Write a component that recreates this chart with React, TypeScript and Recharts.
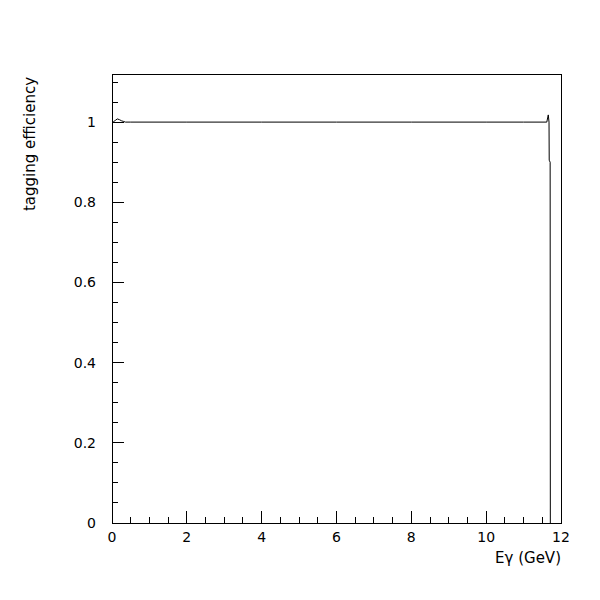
import { LineChart, Line, XAxis, YAxis, ReferenceArea, Customized } from "recharts";

// photon energy (GeV) and tagging efficiency
const energy = [0, 0.04, 0.1, 0.14, 0.2, 0.26, 0.3, 0.36, 0.5, 2, 4, 6, 8, 10, 11.0, 11.62, 11.66, 11.68, 11.685, 11.71, 11.715];
const efficiency = [1.0, 1.001, 1.005, 1.008, 1.006, 1.003, 1.002, 1.0, 1.0, 1.0, 1.0, 1.0, 1.0, 1.0, 1.0, 1.0, 1.018, 1.0, 0.905, 0.9, 0];

const xTicks = Array.from({ length: 25 }, (_, i) => i * 0.5);
const xLabels = [0, 2, 4, 6, 8, 10, 12];
const yTicks = Array.from({ length: 23 }, (_, i) => Math.round(i * 5) / 100);
const yLabels = [0, 0.2, 0.4, 0.6, 0.8, 1];

const data = energy.map((e, i) => ({ e, eff: efficiency[i] }));

const font = "'DejaVu Sans', Verdana, sans-serif";

const XTick = (props: any) => {
  const { x, y, payload } = props;
  const v = payload.value;
  const major = xLabels.includes(v);
  return (
    <g>
      <line x1={x} x2={x} y1={y} y2={y - (major ? 12 : 6)} stroke="#000" shapeRendering="crispEdges" />
      {major && (
        <text x={x} y={y + 19} textAnchor="middle" fontSize={14} fontFamily={font} fill="#000">
          {v}
        </text>
      )}
    </g>
  );
};

const YTick = (props: any) => {
  const { x, y, payload } = props;
  const v = payload.value;
  const major = yLabels.some((l) => Math.abs(l - v) < 1e-6);
  return (
    <g>
      <line x1={x} x2={x + (major ? 12 : 6)} y1={y} y2={y} stroke="#000" shapeRendering="crispEdges" />
      {major && (
        <text x={x - 16} y={y + 5} textAnchor="end" fontSize={14} fontFamily={font} fill="#000">
          {v}
        </text>
      )}
    </g>
  );
};

const Titles = () => (
  <g fontFamily={font} fontSize={15} fill="#000">
    <text x={35} y={144} textAnchor="middle" transform="rotate(-90 35 144)">
      tagging efficiency
    </text>
    <text x={561} y={563} textAnchor="end">
      Eγ (GeV)
    </text>
  </g>
);

export default function App() {
  return (
    <div style={{ position: "absolute", left: 0, top: 0, background: "#fff" }}>
      <LineChart width={600} height={600} data={data} margin={{ top: 74, right: 39, bottom: 47, left: 52 }}>
        <XAxis
          dataKey="e"
          type="number"
          domain={[0, 12]}
          ticks={xTicks}
          tick={<XTick />}
          tickSize={0}
          tickMargin={0}
          tickLine={false}
          interval={0}
          height={30}
          axisLine={{ stroke: "#000", shapeRendering: "crispEdges" }}
          allowDataOverflow
        />
        <YAxis
          type="number"
          domain={[0, 1.12]}
          ticks={yTicks}
          tick={<YTick />}
          tickSize={0}
          tickMargin={0}
          tickLine={false}
          interval={0}
          width={60}
          axisLine={{ stroke: "#000", shapeRendering: "crispEdges" }}
          allowDataOverflow
        />
        <ReferenceArea x1={0} x2={12} y1={0} y2={1.12} fill="none" stroke="#000" strokeWidth={1} shapeRendering="crispEdges" />
        <Line dataKey="eff" type="linear" stroke="#000" strokeWidth={1} dot={false} isAnimationActive={false} />
        <Customized component={Titles} />
      </LineChart>
    </div>
  );
}
